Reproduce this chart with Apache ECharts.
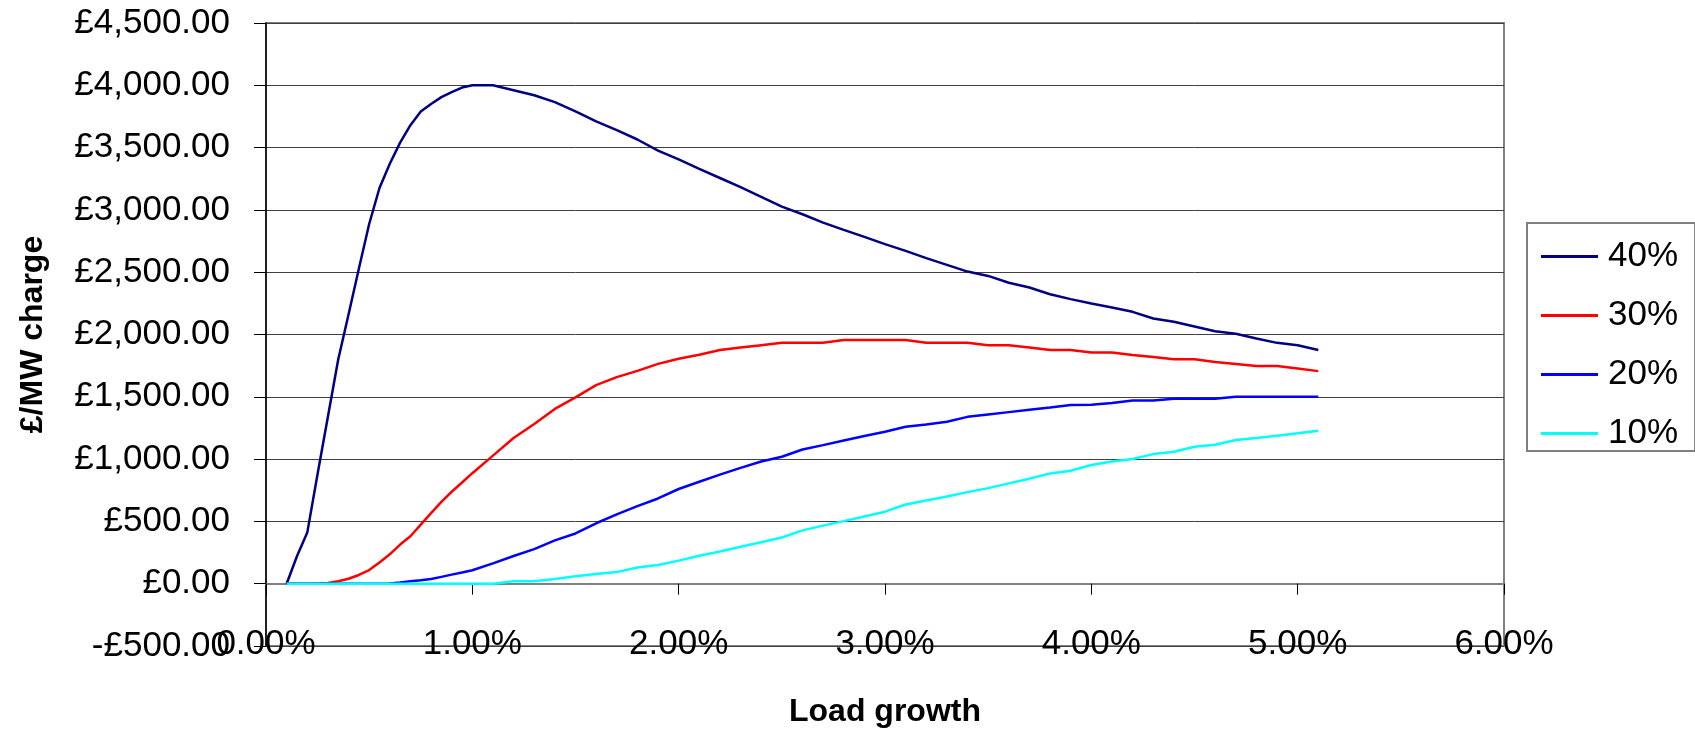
<!DOCTYPE html>
<html>
<head>
<meta charset="utf-8">
<script src="https://cdn.jsdelivr.net/npm/echarts@6/dist/echarts.min.js"></script>
<style>
html,body{margin:0;padding:0;background:#fff;}
#chart{width:1695px;height:731px;}
</style>
</head>
<body>
<div id="chart"></div>
<script>
// Load growth (%) sample points
const loadGrowth = [0.10,0.15,0.20,0.25,0.30,0.35,0.40,0.45,0.50,0.55,0.60,0.65,0.70,0.75,0.80,0.85,0.90,0.95,1.00,
  1.1,1.2,1.3,1.4,1.5,1.6,1.7,1.8,1.9,2.0,
  2.1,2.2,2.3,2.4,2.5,2.6,2.7,2.8,2.9,3.0,
  3.1,3.2,3.3,3.4,3.5,3.6,3.7,3.8,3.9,4.0,
  4.1,4.2,4.3,4.4,4.5,4.6,4.7,4.8,4.9,5.0,
  5.1];
const seriesNames = ['40%','30%','20%','10%'];
const charge40 = [0,220,410,880,1340,1800,2160,2527,2887,3176,3370,3540,3680,3790,3850,3905,3945,3982,4000,
  4000,3960,3920,3865,3790,3710,3640,3565,3475,3405,
  3330,3256,3182,3105,3026,2965,2898,2840,2783,2725,
  2671,2613,2559,2505,2470,2415,2377,2323,2284,2249,
  2217,2182,2128,2102,2064,2026,2006,1968,1933,1914,
  1875];
const charge30 = [0,0,0,0,5,20,40,70,109,170,236,314,381,474,566,656,738,812,887,
  1028,1169,1281,1403,1495,1594,1658,1708,1764,1805,
  1837,1875,1895,1914,1933,1933,1933,1955,1955,1955,
  1955,1933,1933,1933,1914,1914,1895,1875,1875,1856,
  1856,1836,1820,1802,1802,1780,1764,1748,1748,1728,
  1706];
const charge20 = [0,0,0,0,0,0,0,0,0,0,2,10,20,28,37,55,73,90,108,
  163,222,278,348,403,485,556,623,684,760,
  818,875,930,981,1019,1077,1112,1150,1185,1220,
  1259,1278,1300,1339,1358,1377,1396,1415,1435,1437,
  1450,1470,1470,1485,1485,1485,1500,1500,1500,1500,
  1500];
const charge10 = [0,0,0,0,0,0,0,0,0,0,0,0,0,0,0,0,0,0,0,
  0,19,20,38,60,77,93,130,150,185,
  224,259,297,332,371,428,466,502,540,578,
  636,668,700,735,767,805,843,885,907,952,
  980,1001,1040,1059,1099,1115,1153,1169,1188,1207,
  1227];
const colors = ['#000080','#FF0000','#0000FF','#00FFFF'];
const allCharges = [charge40, charge30, charge20, charge10];

const FONT = '"Liberation Sans", Arial, sans-serif';
function money(v){
  const neg = v < 0;
  const s = Math.abs(v).toFixed(2).replace(/\B(?=(\d{3})+(?!\d))/g, ',');
  return (neg ? '-' : '') + '£' + s;
}

const chart = echarts.init(document.getElementById('chart'));
chart.setOption({
  animation: false,
  backgroundColor: '#ffffff',
  textStyle: { fontFamily: FONT },
  grid: {
    left: 266, top: 23, right: 191, bottom: 85,
    containLabel: false, outerBoundsMode: 'none',
    show: true, borderColor: '#808080', borderWidth: 2, backgroundColor: '#ffffff'
  },
  legend: {
    orient: 'vertical',
    left: 1527, top: 223,
    data: seriesNames,
    icon: 'rect',
    itemWidth: 57, itemHeight: 3, itemGap: 24,
    padding: [16, 17, 0, 14],
    borderColor: '#808080', borderWidth: 2,
    textStyle: { fontFamily: FONT, fontSize: 35, color: '#000', lineHeight: 32, padding: [0,0,0,5] }
  },
  xAxis: {
    type: 'value', min: 0, max: 6, interval: 1,
    name: 'Load growth', nameLocation: 'middle', nameGap: 50,
    nameTextStyle: { fontFamily: FONT, fontSize: 32, fontWeight: 'bold', color: '#000', verticalAlign: 'top' },
    axisLine: { show: true, onZero: true, lineStyle: { color: '#808080', width: 2 } },
    axisTick: { show: true, length: 11, lineStyle: { color: '#000', width: 1 } },
    axisLabel: { fontFamily: FONT, fontSize: 35, color: '#000', margin: -2, verticalAlign: 'middle',
      formatter: v => v.toFixed(2) + '%' },
    splitLine: { show: false }
  },
  yAxis: {
    type: 'value', min: -500, max: 4500, interval: 500,
    name: '£/MW charge', nameLocation: 'middle', nameGap: 217,
    nameTextStyle: { fontFamily: FONT, fontSize: 32, fontWeight: 'bold', color: '#000' },
    axisLine: { show: true, lineStyle: { color: '#000', width: 1.5 } },
    axisTick: { show: true, length: 12, lineStyle: { color: '#000', width: 1 } },
    axisLabel: { fontFamily: FONT, fontSize: 35, color: '#000', margin: 36, formatter: v => money(v) },
    splitLine: { show: true, lineStyle: { color: '#404040', width: 1 } }
  },
  series: seriesNames.map((n, k) => ({
    name: n, type: 'line', symbol: 'none', showSymbol: false,
    data: loadGrowth.map((x, i) => [x, allCharges[k][i]]),
    lineStyle: { color: colors[k], width: 2.5 },
    itemStyle: { color: colors[k] }
  }))
});
</script>
</body>
</html>
